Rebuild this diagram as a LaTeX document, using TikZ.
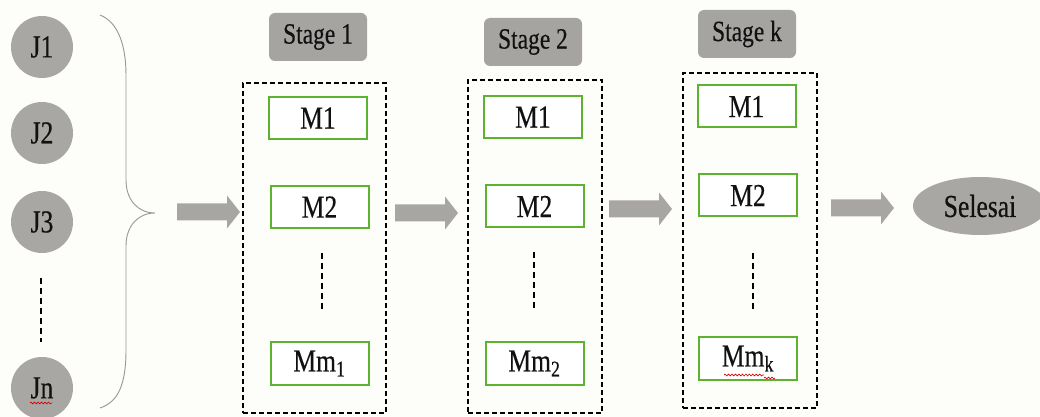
\documentclass[tikz,border=0pt]{standalone}
\usepackage{fontspec}
\setmainfont[FakeStretch=0.8,FakeBold=0.4]{Liberation Serif}
\usetikzlibrary{decorations.pathmorphing,shapes.geometric}
\definecolor{bgcol}{HTML}{FDFDF9}
\definecolor{jgray}{HTML}{A9A7A4}
\definecolor{sgray}{HTML}{A6A4A1}
\definecolor{agray}{HTML}{A8A6A3}
\definecolor{mgreen}{HTML}{5DB330}
\definecolor{txt}{HTML}{111111}
\tikzset{
  job/.style={circle, fill=jgray, minimum size=46.5pt, inner sep=0pt, text=txt},
  stagelbl/.style={rounded corners=4.5pt, fill=sgray, minimum width=73.5pt, minimum height=36pt, inner sep=0pt, text=txt, font=\fontsize{22}{24}\selectfont},
  stagebox/.style={draw=black, line width=0.8pt, dash pattern=on 3.6pt off 2.4pt, inner sep=0pt},
  mach/.style={draw=mgreen, line width=1.5pt, fill=white, minimum width=73.5pt, minimum height=31.5pt, inner sep=0pt, text=txt},
  dots/.style={draw=black, line width=0.8pt, dash pattern=on 4.5pt off 3pt},
  brace/.style={draw=gray!80, line width=0.7pt},
  blockarrow/.pic={\fill[agray] (0,-8.5) -- (50,-8.5) -- (50,-16.5) -- (63,0) -- (50,16.5) -- (50,8.5) -- (0,8.5) -- cycle;},
  squig/.style={draw=red!85!black, line width=0.5pt, decorate, decoration={snake, segment length=2.6pt, amplitude=0.7pt}}
}
\begin{document}
\begin{tikzpicture}[x=0.75pt,y=-0.75pt, font=\fontsize{24}{26}\selectfont]
\fill[bgcol] (0,0) rectangle (1040,417);
\useasboundingbox (0,0) rectangle (1040,417);

% jobs
\node[job] (J1) at (42,47) {J1};
\node[job] (J2) at (42,133) {J2};
\node[job] (J3) at (42,222) {J3};
\node[job] (Jn) at (42,388) {Jn};
\coordinate (jd1) at (41,278);
\coordinate (jd2) at (41,342);
\draw[dots] (jd1) -- (jd2);
\draw[squig] (30,403) -- (52,403);

% brace
\coordinate (btop) at (100,15);
\coordinate (btip) at (155,213);
\coordinate (bbot) at (100,408);
\draw[brace] (btop) .. controls (118,22) and (126,45) .. (126,75) -- (126,180)
  .. controls (126,200) and (138,213) .. (btip)
  .. controls (138,213) and (126,226) .. (126,246) -- (126,350)
  .. controls (126,385) and (118,402) .. (bbot);

% block arrows
\pic (a1) at (177,212) {blockarrow};
\pic (a2) at (395,213) {blockarrow};
\pic (a3) at (609,209) {blockarrow};
\pic (a4) at (831,208) {blockarrow};

% stage labels
\node[stagelbl] (L1) at (318,37) {Stage 1};
\node[stagelbl] (L2) at (533,42) {Stage 2};
\node[stagelbl] (Lk) at (747,34) {Stage k};

% stage boxes
\node[stagebox, minimum width=107.25pt, minimum height=247.5pt] (B1) at (314.5,248) {};
\node[stagebox, minimum width=100.5pt, minimum height=249.75pt] (B2) at (535,246.5) {};
\node[stagebox, minimum width=100.5pt, minimum height=251.25pt] (Bk) at (750,240.5) {};

% machines stage 1
\node[mach] (S1M1) at (318,118) {M1};
\node[mach] (S1M2) at (319.5,207) {M2};
\node[mach] (S1Mm) at (319.5,363.5) {Mm\textsubscript{1}};
\coordinate (d1a) at (322,253);
\coordinate (d1b) at (322,312);
\draw[dots] (d1a) -- (d1b);

% machines stage 2
\node[mach] (S2M1) at (533,117) {M1};
\node[mach] (S2M2) at (534.5,206.5) {M2};
\node[mach] (S2Mm) at (534.5,363.5) {Mm\textsubscript{2}};
\coordinate (d2a) at (534,252);
\coordinate (d2b) at (534,310);
\draw[dots] (d2a) -- (d2b);

% machines stage k
\node[mach] (SkM1) at (746.5,106.5) {M1};
\node[mach] (SkM2) at (748,195.5) {M2};
\node[mach] (SkMm) at (748,358.5) {Mm\textsubscript{k}};
\coordinate (dka) at (753,253);
\coordinate (dkb) at (753,311);
\draw[dots] (dka) -- (dkb);
\draw[squig] (724,375) -- (764,375);
\draw[squig] (764,378) -- (775,378);

% end
\node[ellipse, fill=jgray, minimum width=100.5pt, minimum height=43.5pt, inner sep=0pt, text=txt] (end) at (980,206) {Selesai};
\end{tikzpicture}
\end{document}
